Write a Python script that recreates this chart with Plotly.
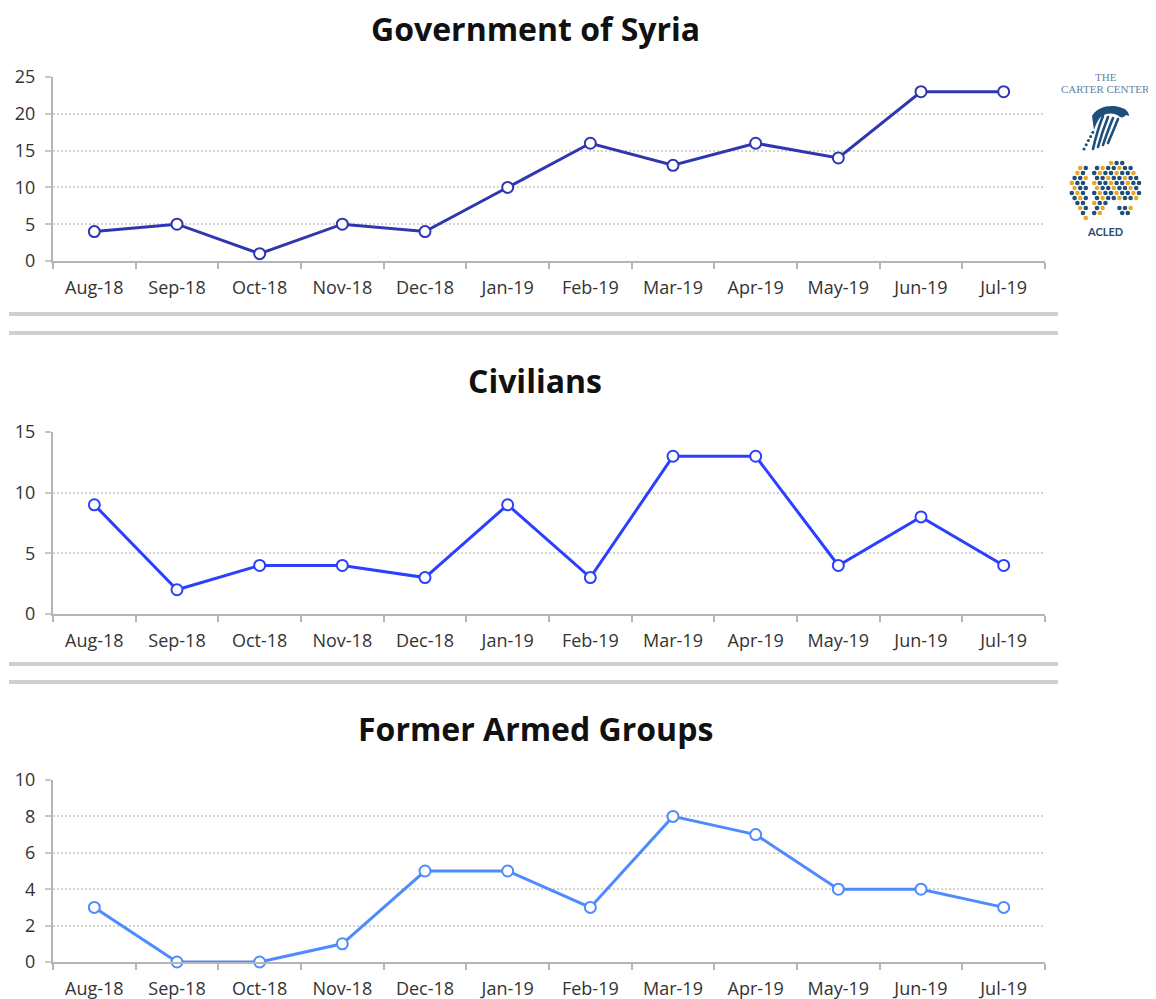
import base64
import plotly.graph_objects as go

months = ["Aug-18", "Sep-18", "Oct-18", "Nov-18", "Dec-18", "Jan-19",
          "Feb-19", "Mar-19", "Apr-19", "May-19", "Jun-19", "Jul-19"]
government = [4, 5, 1, 5, 4, 10, 16, 13, 16, 14, 23, 23]
civilians = [9, 2, 4, 4, 3, 9, 3, 13, 13, 4, 8, 4]
former_armed = [3, 0, 0, 1, 5, 5, 3, 8, 7, 4, 4, 3]

titles = ["Government of Syria", "Civilians", "Former Armed Groups"]
series = [government, civilians, former_armed]
colors = ["#2E37B0", "#2B3FFF", "#4E8BFF"]
yranges = [[0, 25], [0, 15], [0, 10]]
dticks = [5, 5, 2]

# page body has an 8px margin: figure occupies screen (8,8)-(1156,999)
OFF = 8
W, H = 1156 - OFF, 999 - OFF


def px(X):
    return (X - OFF) / W


def py(Y):
    return 1 - (Y - OFF) / H


x0, x1 = 53, 1045
areas = [(77, 261), (432, 614), (780, 962)]   # screen top/bottom of plot areas
title_y = [28, 380, 728]
FONT = "Open Sans, Lato, sans-serif"

fig = go.Figure()
layout = dict(
    width=W, height=H,
    margin=dict(l=0, r=0, t=0, b=0, autoexpand=False),
    paper_bgcolor="white", plot_bgcolor="white",
    showlegend=False,
    font=dict(family=FONT, color="#404040", size=18),
)

annotations = []
shapes = []
for i, (name, vals, col) in enumerate(zip(titles, series, colors)):
    n = i + 1
    xa = "x" if n == 1 else f"x{n}"
    ya = "y" if n == 1 else f"y{n}"
    fig.add_trace(go.Scatter(
        x=months, y=vals, mode="lines+markers", xaxis=xa, yaxis=ya,
        line=dict(color=col, width=3),
        marker=dict(symbol="circle", size=11, color="white",
                    line=dict(color=col, width=2)),
        cliponaxis=False,
    ))
    top, bot = areas[i]
    layout[f"xaxis{n if n > 1 else ''}"] = dict(
        domain=[px(x0), px(x1)], anchor=ya, type="category",
        range=[-0.5, 11.5], tickson="boundaries", ticks="outside",
        ticklen=6, tickwidth=2, tickcolor="#b5b5b5",
        showline=True, linecolor="#b5b5b5", linewidth=2,
        showgrid=False, zeroline=False, ticklabelstandoff=9,
        automargin=False,
        tickfont=dict(size=18, color="#333333", family=FONT), fixedrange=True,
    )
    layout[f"yaxis{n if n > 1 else ''}"] = dict(
        domain=[py(bot), py(top)], anchor=xa,
        range=yranges[i], dtick=dticks[i], ticks="outside",
        ticklen=6, tickwidth=2, tickcolor="#c8c8c8",
        showline=True, linecolor="#b5b5b5", linewidth=2,
        showgrid=True, gridcolor="#d3d3d3", gridwidth=2, griddash="2px,2px",
        zeroline=False, ticklabelstandoff=6, automargin=False,
        tickfont=dict(size=18, color="#333333", family=FONT), fixedrange=True,
    )
    annotations.append(dict(
        text=f"<b>{name}</b>", x=px(535), y=py(title_y[i]),
        xref="paper", yref="paper", xanchor="center", yanchor="middle",
        showarrow=False, font=dict(size=32, color="#111111", family=FONT),
    ))

# double separator lines
for yy in [314, 333, 664, 682]:
    shapes.append(dict(type="line", xref="paper", yref="paper",
                       x0=px(9), x1=px(1058), y0=py(yy), y1=py(yy),
                       line=dict(color="#cfcfcf", width=4)))

# ---- logo decoration (The Carter Center eagle + ACLED globe) ----
LX, LY, LW, LH = 1062, 102, 90, 126   # screen box of the logo image
navy = "#1d4f7a"
gold = "#e8a72c"
parts = []
# eagle head (filled) with beak pointing right
parts.append(f'<path d="M30,14 C36,4 50,2 60,6 C64,7 67,10 67,14 L64,13 C62,15 60,16 58,15 '
             f'C54,11 46,10 40,14 C36,17 34,22 32,28 Z" fill="{navy}"/>')
# feather strokes
for k in range(4):
    ox = 41 + k * 5
    parts.append(f'<path d="M{ox},{14 + k} C{ox - 4},{24 + k} {ox - 7},34 {ox - 10},{47 - k * 2}" '
                 f'stroke="{navy}" stroke-width="2.6" fill="none" stroke-linecap="round"/>')
# stars
for k in range(5):
    sx, sy = 22 + k * 2.2, 47 - k * 4.2
    parts.append(f'<circle cx="{sx:.1f}" cy="{sy:.1f}" r="1.5" fill="{navy}"/>')
# globe of dots (staggered rows)
cx, cy, r = 43, 89, 35
j = 0
row = 0
gy = -33.0
while gy <= 34:
    off = 2.8 if row % 2 else 0.0
    gx = -36.0 + off
    while gx <= 36:
        if gx * gx + gy * gy <= r * r:
            land = ((gx < -17 and -26 < gy < 30 and not (gx < -28 and gy > 10))
                    or (-12 < gx < 6 and -24 < gy < 27 and not (gx > 0 and gy > 16))
                    or (gx >= 6 and -31 < gy < 10)
                    or (gx > 12 and 14 < gy < 25))
            if land:
                j += 1
                c = gold if (j % 3 == 1) else navy
                parts.append(f'<circle cx="{cx + gx:.1f}" cy="{cy + gy:.1f}" r="2.3" fill="{c}"/>')
        gx += 5.6
    gy += 5.0
    row += 1
svg = (f'<svg xmlns="http://www.w3.org/2000/svg" width="{LW}" height="{LH}" '
       f'viewBox="0 0 {LW} {LH}">' + "".join(parts) + "</svg>")
src = "data:image/svg+xml;base64," + base64.b64encode(svg.encode()).decode()
layout["images"] = [dict(source=src, xref="paper", yref="paper", x=px(LX), y=py(LY),
                         sizex=LW / W, sizey=LH / H, xanchor="left", yanchor="top",
                         sizing="stretch", layer="above")]

logo_font = dict(family="Liberation Serif, serif", size=11, color="#5d85a8")
annotations.append(dict(text="THE", x=px(1106), y=py(77), xref="paper", yref="paper",
                        showarrow=False, xanchor="center", yanchor="middle", font=logo_font))
annotations.append(dict(text="CARTER CENTER", x=px(1105), y=py(89), xref="paper", yref="paper",
                        showarrow=False, xanchor="center", yanchor="middle", font=logo_font))
annotations.append(dict(text="<b>ACLED</b>", x=px(1105), y=py(231), xref="paper", yref="paper",
                        showarrow=False, xanchor="center", yanchor="middle",
                        font=dict(family="Lato, sans-serif", size=11, color="#2b4a6b")))

layout["annotations"] = annotations
layout["shapes"] = shapes
fig.update_layout(**layout)
fig.write_html("out.html")
